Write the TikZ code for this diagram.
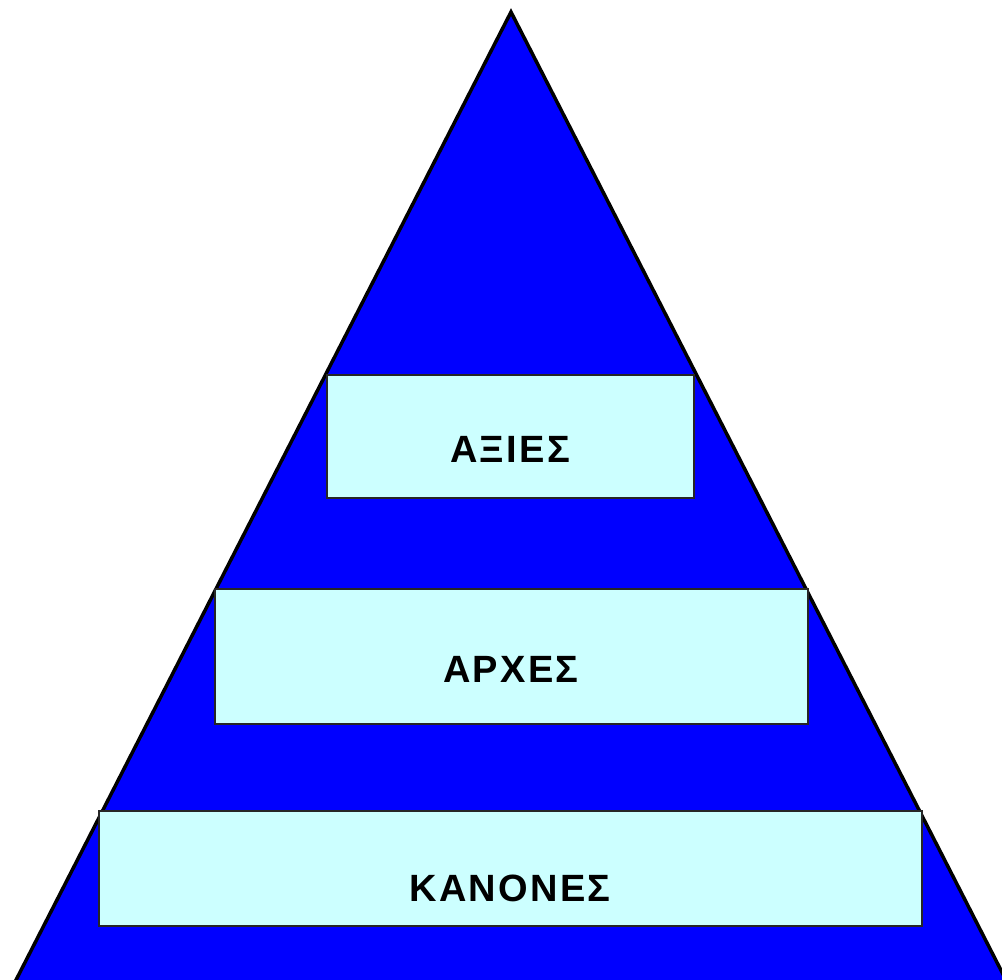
\documentclass[tikz,border=0pt]{standalone}
\usepackage{fontspec}
\setmainfont{Liberation Sans}[LetterSpace=6]
\begin{document}
\begin{tikzpicture}[x=1pt,y=-1pt,
  level/.style={draw=black!85,line width=1.5pt,fill=boxfill},
  label/.style={font=\bfseries\fontsize{38}{44}\selectfont,inner sep=0pt}]
\definecolor{boxfill}{HTML}{CCFFFF}
\definecolor{pyr}{HTML}{0000FF}
\useasboundingbox (0,0) rectangle (1002,980);
\begin{scope}
\clip (0,0) rectangle (1002,980);
\draw[fill=pyr,line width=3.5pt,line join=miter] (511,12) -- (1007,982) -- (15,982) -- cycle;
\end{scope}
\draw[level] (327,375) rectangle (694,498);
\draw[level] (215,589) rectangle (808,724);
\draw[level] (99,811) rectangle (922,926);
\node[label] (axies) at (510,449.5) {ΑΞΙΕΣ};
\node[label] (arxes) at (511,669) {ΑΡΧΕΣ};
\node[label] (kanones) at (510,888) {ΚΑΝΟΝΕΣ};
\end{tikzpicture}
\end{document}
